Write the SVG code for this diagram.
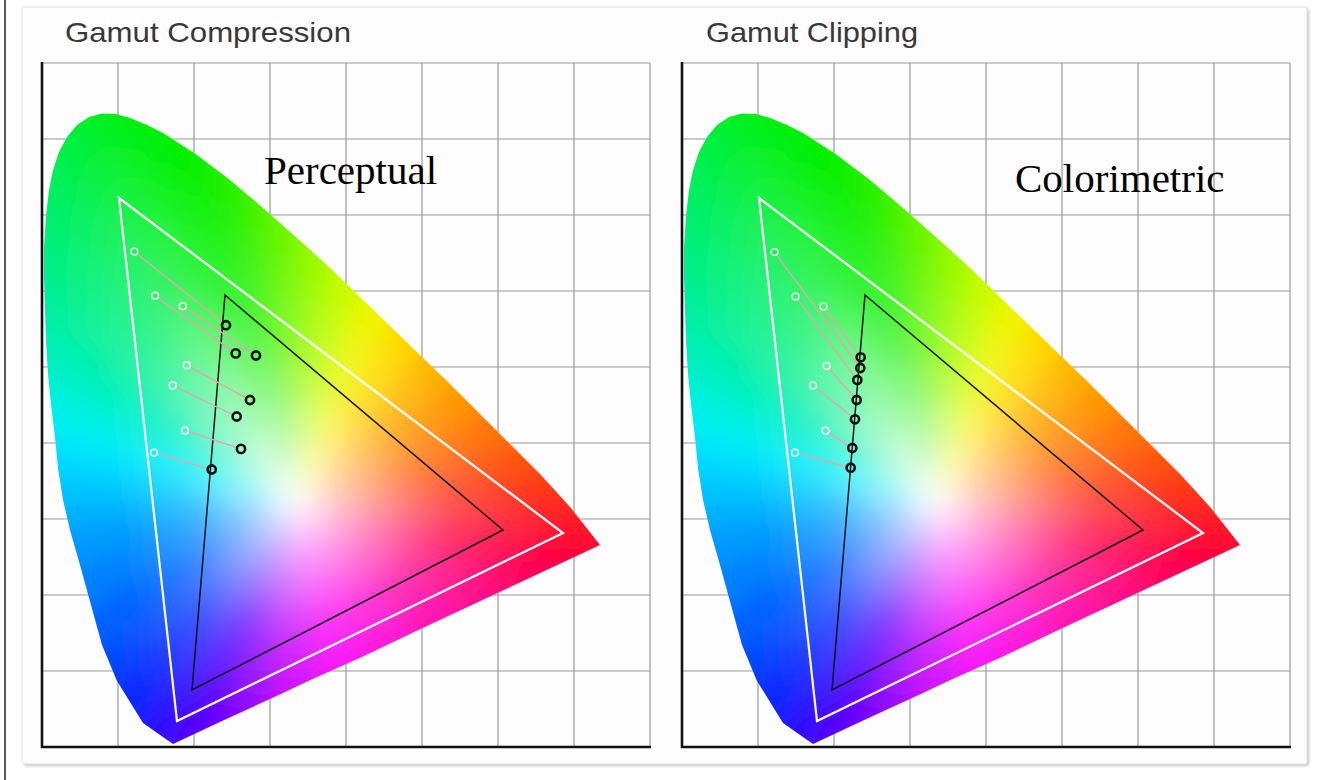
<svg xmlns="http://www.w3.org/2000/svg" xmlns:xlink="http://www.w3.org/1999/xlink" width="1323" height="780" viewBox="0 0 1323 780">
<style>
.grid{fill:none;stroke:#9a9a9a;stroke-width:1.2}
.axis{fill:none;stroke:#111;stroke-width:2.6}
.wtri{fill:none;stroke:#fff;stroke-width:2.2;stroke-linejoin:miter}
.btri{fill:none;stroke:#111;stroke-width:1.5;stroke-linejoin:miter}
.conn{stroke:#e6a2b4;stroke-width:1.4;fill:none}
.wpt{fill:none;stroke:#fff;stroke-width:1.4}
.bpt{fill:none;stroke:#111;stroke-width:2.6}
.title{font-family:"Liberation Sans",Arial,sans-serif;font-size:28px;fill:#383838}
.label{font-family:"Liberation Serif","Times New Roman",serif;font-size:41px;fill:#000}
</style>
<defs>
<filter id="sh" x="-5%" y="-5%" width="110%" height="110%"><feGaussianBlur stdDeviation="1.5"/></filter>
<filter id="soft" x="-10%" y="-10%" width="120%" height="120%"><feGaussianBlur stdDeviation="10"/></filter>
<clipPath id="hsClip"><polygon points="173,744 143,723 117,681 102,645 91,605 80,565 70,530 63,500 58,468 55,437 51,405 48,374 46,342 45,310 44,278 44,247 46,215 49,190 53,170 59,152 67,137 77,125 89,117 102,113.5 116,114 130,118 147,125 163,133 197,155 230,180 263,208 297,238 330,268 360,297 390,326 420,355 450,384 480,414 510,444 540,474 570,507 600,545 553,567 506,589 459,611 412,633 364,656 317,677 270,699 222,721"/></clipPath>
<radialGradient id="g0" gradientUnits="userSpaceOnUse" cx="296" cy="502" r="269"><stop offset="0" stop-color="#2a08ff" stop-opacity="0"/><stop offset=".2" stop-color="#2a08ff" stop-opacity=".35"/><stop offset=".5" stop-color="#2a08ff" stop-opacity=".78"/><stop offset=".85" stop-color="#2a08ff"/></radialGradient>
<radialGradient id="g1" gradientUnits="userSpaceOnUse" cx="296" cy="502" r="253"><stop offset="0" stop-color="#0a28ff" stop-opacity="0"/><stop offset=".2" stop-color="#0a28ff" stop-opacity=".35"/><stop offset=".5" stop-color="#0a28ff" stop-opacity=".78"/><stop offset=".85" stop-color="#0a28ff"/></radialGradient>
<radialGradient id="g2" gradientUnits="userSpaceOnUse" cx="296" cy="502" r="241"><stop offset="0" stop-color="#0048ff" stop-opacity="0"/><stop offset=".2" stop-color="#0048ff" stop-opacity=".35"/><stop offset=".5" stop-color="#0048ff" stop-opacity=".78"/><stop offset=".85" stop-color="#0048ff"/></radialGradient>
<radialGradient id="g3" gradientUnits="userSpaceOnUse" cx="296" cy="502" r="195"><stop offset="0" stop-color="#0064ff" stop-opacity="0"/><stop offset=".2" stop-color="#0064ff" stop-opacity=".35"/><stop offset=".5" stop-color="#0064ff" stop-opacity=".78"/><stop offset=".85" stop-color="#0064ff"/></radialGradient>
<radialGradient id="g4" gradientUnits="userSpaceOnUse" cx="296" cy="502" r="191"><stop offset="0" stop-color="#0080ff" stop-opacity="0"/><stop offset=".2" stop-color="#0080ff" stop-opacity=".35"/><stop offset=".5" stop-color="#0080ff" stop-opacity=".78"/><stop offset=".85" stop-color="#0080ff"/></radialGradient>
<radialGradient id="g5" gradientUnits="userSpaceOnUse" cx="296" cy="502" r="180"><stop offset="0" stop-color="#0098ff" stop-opacity="0"/><stop offset=".2" stop-color="#0098ff" stop-opacity=".35"/><stop offset=".5" stop-color="#0098ff" stop-opacity=".78"/><stop offset=".85" stop-color="#0098ff"/></radialGradient>
<radialGradient id="g6" gradientUnits="userSpaceOnUse" cx="296" cy="502" r="182"><stop offset="0" stop-color="#00b0ff" stop-opacity="0"/><stop offset=".2" stop-color="#00b0ff" stop-opacity=".35"/><stop offset=".5" stop-color="#00b0ff" stop-opacity=".78"/><stop offset=".85" stop-color="#00b0ff"/></radialGradient>
<radialGradient id="g7" gradientUnits="userSpaceOnUse" cx="296" cy="502" r="186"><stop offset="0" stop-color="#00c8ff" stop-opacity="0"/><stop offset=".2" stop-color="#00c8ff" stop-opacity=".35"/><stop offset=".5" stop-color="#00c8ff" stop-opacity=".78"/><stop offset=".85" stop-color="#00c8ff"/></radialGradient>
<radialGradient id="g8" gradientUnits="userSpaceOnUse" cx="296" cy="502" r="192"><stop offset="0" stop-color="#00e0ff" stop-opacity="0"/><stop offset=".2" stop-color="#00e0ff" stop-opacity=".35"/><stop offset=".5" stop-color="#00e0ff" stop-opacity=".78"/><stop offset=".85" stop-color="#00e0ff"/></radialGradient>
<radialGradient id="g9" gradientUnits="userSpaceOnUse" cx="296" cy="502" r="200"><stop offset="0" stop-color="#00f0f0" stop-opacity="0"/><stop offset=".2" stop-color="#00f0f0" stop-opacity=".35"/><stop offset=".5" stop-color="#00f0f0" stop-opacity=".78"/><stop offset=".85" stop-color="#00f0f0"/></radialGradient>
<radialGradient id="g10" gradientUnits="userSpaceOnUse" cx="296" cy="502" r="211"><stop offset="0" stop-color="#00f0d8" stop-opacity="0"/><stop offset=".2" stop-color="#00f0d8" stop-opacity=".35"/><stop offset=".5" stop-color="#00f0d8" stop-opacity=".78"/><stop offset=".85" stop-color="#00f0d8"/></radialGradient>
<radialGradient id="g11" gradientUnits="userSpaceOnUse" cx="296" cy="502" r="223"><stop offset="0" stop-color="#00f0c0" stop-opacity="0"/><stop offset=".2" stop-color="#00f0c0" stop-opacity=".35"/><stop offset=".5" stop-color="#00f0c0" stop-opacity=".78"/><stop offset=".85" stop-color="#00f0c0"/></radialGradient>
<radialGradient id="g12" gradientUnits="userSpaceOnUse" cx="296" cy="502" r="252"><stop offset="0" stop-color="#00f0aa" stop-opacity="0"/><stop offset=".2" stop-color="#00f0aa" stop-opacity=".35"/><stop offset=".5" stop-color="#00f0aa" stop-opacity=".78"/><stop offset=".85" stop-color="#00f0aa"/></radialGradient>
<radialGradient id="g13" gradientUnits="userSpaceOnUse" cx="296" cy="502" r="316"><stop offset="0" stop-color="#00f098" stop-opacity="0"/><stop offset=".2" stop-color="#00f098" stop-opacity=".35"/><stop offset=".5" stop-color="#00f098" stop-opacity=".78"/><stop offset=".85" stop-color="#00f098"/></radialGradient>
<radialGradient id="g14" gradientUnits="userSpaceOnUse" cx="296" cy="502" r="337"><stop offset="0" stop-color="#00f088" stop-opacity="0"/><stop offset=".2" stop-color="#00f088" stop-opacity=".35"/><stop offset=".5" stop-color="#00f088" stop-opacity=".78"/><stop offset=".85" stop-color="#00f088"/></radialGradient>
<radialGradient id="g15" gradientUnits="userSpaceOnUse" cx="296" cy="502" r="359"><stop offset="0" stop-color="#00f078" stop-opacity="0"/><stop offset=".2" stop-color="#00f078" stop-opacity=".35"/><stop offset=".5" stop-color="#00f078" stop-opacity=".78"/><stop offset=".85" stop-color="#00f078"/></radialGradient>
<radialGradient id="g16" gradientUnits="userSpaceOnUse" cx="296" cy="502" r="381"><stop offset="0" stop-color="#00f068" stop-opacity="0"/><stop offset=".2" stop-color="#00f068" stop-opacity=".35"/><stop offset=".5" stop-color="#00f068" stop-opacity=".78"/><stop offset=".85" stop-color="#00f068"/></radialGradient>
<radialGradient id="g17" gradientUnits="userSpaceOnUse" cx="296" cy="502" r="401"><stop offset="0" stop-color="#00f058" stop-opacity="0"/><stop offset=".2" stop-color="#00f058" stop-opacity=".35"/><stop offset=".5" stop-color="#00f058" stop-opacity=".78"/><stop offset=".85" stop-color="#00f058"/></radialGradient>
<radialGradient id="g18" gradientUnits="userSpaceOnUse" cx="296" cy="502" r="418"><stop offset="0" stop-color="#00f048" stop-opacity="0"/><stop offset=".2" stop-color="#00f048" stop-opacity=".35"/><stop offset=".5" stop-color="#00f048" stop-opacity=".78"/><stop offset=".85" stop-color="#00f048"/></radialGradient>
<radialGradient id="g19" gradientUnits="userSpaceOnUse" cx="296" cy="502" r="431"><stop offset="0" stop-color="#00f038" stop-opacity="0"/><stop offset=".2" stop-color="#00f038" stop-opacity=".35"/><stop offset=".5" stop-color="#00f038" stop-opacity=".78"/><stop offset=".85" stop-color="#00f038"/></radialGradient>
<radialGradient id="g20" gradientUnits="userSpaceOnUse" cx="296" cy="502" r="434"><stop offset="0" stop-color="#00f028" stop-opacity="0"/><stop offset=".2" stop-color="#00f028" stop-opacity=".35"/><stop offset=".5" stop-color="#00f028" stop-opacity=".78"/><stop offset=".85" stop-color="#00f028"/></radialGradient>
<radialGradient id="g21" gradientUnits="userSpaceOnUse" cx="296" cy="502" r="418"><stop offset="0" stop-color="#00f018" stop-opacity="0"/><stop offset=".2" stop-color="#00f018" stop-opacity=".35"/><stop offset=".5" stop-color="#00f018" stop-opacity=".78"/><stop offset=".85" stop-color="#00f018"/></radialGradient>
<radialGradient id="g22" gradientUnits="userSpaceOnUse" cx="296" cy="502" r="392"><stop offset="0" stop-color="#00f008" stop-opacity="0"/><stop offset=".2" stop-color="#00f008" stop-opacity=".35"/><stop offset=".5" stop-color="#00f008" stop-opacity=".78"/><stop offset=".85" stop-color="#00f008"/></radialGradient>
<radialGradient id="g23" gradientUnits="userSpaceOnUse" cx="296" cy="502" r="361"><stop offset="0" stop-color="#04f000" stop-opacity="0"/><stop offset=".2" stop-color="#04f000" stop-opacity=".35"/><stop offset=".5" stop-color="#04f000" stop-opacity=".78"/><stop offset=".85" stop-color="#04f000"/></radialGradient>
<radialGradient id="g24" gradientUnits="userSpaceOnUse" cx="296" cy="502" r="329"><stop offset="0" stop-color="#18f000" stop-opacity="0"/><stop offset=".2" stop-color="#18f000" stop-opacity=".35"/><stop offset=".5" stop-color="#18f000" stop-opacity=".78"/><stop offset=".85" stop-color="#18f000"/></radialGradient>
<radialGradient id="g25" gradientUnits="userSpaceOnUse" cx="296" cy="502" r="296"><stop offset="0" stop-color="#38f200" stop-opacity="0"/><stop offset=".2" stop-color="#38f200" stop-opacity=".35"/><stop offset=".5" stop-color="#38f200" stop-opacity=".78"/><stop offset=".85" stop-color="#38f200"/></radialGradient>
<radialGradient id="g26" gradientUnits="userSpaceOnUse" cx="296" cy="502" r="264"><stop offset="0" stop-color="#68f600" stop-opacity="0"/><stop offset=".2" stop-color="#68f600" stop-opacity=".35"/><stop offset=".5" stop-color="#68f600" stop-opacity=".78"/><stop offset=".85" stop-color="#68f600"/></radialGradient>
<radialGradient id="g27" gradientUnits="userSpaceOnUse" cx="296" cy="502" r="237"><stop offset="0" stop-color="#98fa00" stop-opacity="0"/><stop offset=".2" stop-color="#98fa00" stop-opacity=".35"/><stop offset=".5" stop-color="#98fa00" stop-opacity=".78"/><stop offset=".85" stop-color="#98fa00"/></radialGradient>
<radialGradient id="g28" gradientUnits="userSpaceOnUse" cx="296" cy="502" r="215"><stop offset="0" stop-color="#c8fc00" stop-opacity="0"/><stop offset=".2" stop-color="#c8fc00" stop-opacity=".35"/><stop offset=".5" stop-color="#c8fc00" stop-opacity=".78"/><stop offset=".85" stop-color="#c8fc00"/></radialGradient>
<radialGradient id="g29" gradientUnits="userSpaceOnUse" cx="296" cy="502" r="200"><stop offset="0" stop-color="#f0f400" stop-opacity="0"/><stop offset=".2" stop-color="#f0f400" stop-opacity=".35"/><stop offset=".5" stop-color="#f0f400" stop-opacity=".78"/><stop offset=".85" stop-color="#f0f400"/></radialGradient>
<radialGradient id="g30" gradientUnits="userSpaceOnUse" cx="296" cy="502" r="192"><stop offset="0" stop-color="#ffd800" stop-opacity="0"/><stop offset=".2" stop-color="#ffd800" stop-opacity=".35"/><stop offset=".5" stop-color="#ffd800" stop-opacity=".78"/><stop offset=".85" stop-color="#ffd800"/></radialGradient>
<radialGradient id="g31" gradientUnits="userSpaceOnUse" cx="296" cy="502" r="192"><stop offset="0" stop-color="#ffb400" stop-opacity="0"/><stop offset=".2" stop-color="#ffb400" stop-opacity=".35"/><stop offset=".5" stop-color="#ffb400" stop-opacity=".78"/><stop offset=".85" stop-color="#ffb400"/></radialGradient>
<radialGradient id="g32" gradientUnits="userSpaceOnUse" cx="296" cy="502" r="194"><stop offset="0" stop-color="#ff9400" stop-opacity="0"/><stop offset=".2" stop-color="#ff9400" stop-opacity=".35"/><stop offset=".5" stop-color="#ff9400" stop-opacity=".78"/><stop offset=".85" stop-color="#ff9400"/></radialGradient>
<radialGradient id="g33" gradientUnits="userSpaceOnUse" cx="296" cy="502" r="204"><stop offset="0" stop-color="#ff7408" stop-opacity="0"/><stop offset=".2" stop-color="#ff7408" stop-opacity=".35"/><stop offset=".5" stop-color="#ff7408" stop-opacity=".78"/><stop offset=".85" stop-color="#ff7408"/></radialGradient>
<radialGradient id="g34" gradientUnits="userSpaceOnUse" cx="296" cy="502" r="222"><stop offset="0" stop-color="#ff5410" stop-opacity="0"/><stop offset=".2" stop-color="#ff5410" stop-opacity=".35"/><stop offset=".5" stop-color="#ff5410" stop-opacity=".78"/><stop offset=".85" stop-color="#ff5410"/></radialGradient>
<radialGradient id="g35" gradientUnits="userSpaceOnUse" cx="296" cy="502" r="246"><stop offset="0" stop-color="#ff3418" stop-opacity="0"/><stop offset=".2" stop-color="#ff3418" stop-opacity=".35"/><stop offset=".5" stop-color="#ff3418" stop-opacity=".78"/><stop offset=".85" stop-color="#ff3418"/></radialGradient>
<radialGradient id="g36" gradientUnits="userSpaceOnUse" cx="296" cy="502" r="274"><stop offset="0" stop-color="#ff1828" stop-opacity="0"/><stop offset=".2" stop-color="#ff1828" stop-opacity=".35"/><stop offset=".5" stop-color="#ff1828" stop-opacity=".78"/><stop offset=".85" stop-color="#ff1828"/></radialGradient>
<radialGradient id="g37" gradientUnits="userSpaceOnUse" cx="296" cy="502" r="265"><stop offset="0" stop-color="#ff0040" stop-opacity="0"/><stop offset=".2" stop-color="#ff0040" stop-opacity=".35"/><stop offset=".5" stop-color="#ff0040" stop-opacity=".78"/><stop offset=".85" stop-color="#ff0040"/></radialGradient>
<radialGradient id="g38" gradientUnits="userSpaceOnUse" cx="296" cy="502" r="250"><stop offset="0" stop-color="#ff005c" stop-opacity="0"/><stop offset=".2" stop-color="#ff005c" stop-opacity=".35"/><stop offset=".5" stop-color="#ff005c" stop-opacity=".78"/><stop offset=".85" stop-color="#ff005c"/></radialGradient>
<radialGradient id="g39" gradientUnits="userSpaceOnUse" cx="296" cy="502" r="235"><stop offset="0" stop-color="#ff0084" stop-opacity="0"/><stop offset=".2" stop-color="#ff0084" stop-opacity=".35"/><stop offset=".5" stop-color="#ff0084" stop-opacity=".78"/><stop offset=".85" stop-color="#ff0084"/></radialGradient>
<radialGradient id="g40" gradientUnits="userSpaceOnUse" cx="296" cy="502" r="219"><stop offset="0" stop-color="#ff00ac" stop-opacity="0"/><stop offset=".2" stop-color="#ff00ac" stop-opacity=".35"/><stop offset=".5" stop-color="#ff00ac" stop-opacity=".78"/><stop offset=".85" stop-color="#ff00ac"/></radialGradient>
<radialGradient id="g41" gradientUnits="userSpaceOnUse" cx="296" cy="502" r="210"><stop offset="0" stop-color="#ff00d4" stop-opacity="0"/><stop offset=".2" stop-color="#ff00d4" stop-opacity=".35"/><stop offset=".5" stop-color="#ff00d4" stop-opacity=".78"/><stop offset=".85" stop-color="#ff00d4"/></radialGradient>
<radialGradient id="g42" gradientUnits="userSpaceOnUse" cx="296" cy="502" r="210"><stop offset="0" stop-color="#f800f4" stop-opacity="0"/><stop offset=".2" stop-color="#f800f4" stop-opacity=".35"/><stop offset=".5" stop-color="#f800f4" stop-opacity=".78"/><stop offset=".85" stop-color="#f800f4"/></radialGradient>
<radialGradient id="g43" gradientUnits="userSpaceOnUse" cx="296" cy="502" r="220"><stop offset="0" stop-color="#cc00ff" stop-opacity="0"/><stop offset=".2" stop-color="#cc00ff" stop-opacity=".35"/><stop offset=".5" stop-color="#cc00ff" stop-opacity=".78"/><stop offset=".85" stop-color="#cc00ff"/></radialGradient>
<radialGradient id="g44" gradientUnits="userSpaceOnUse" cx="296" cy="502" r="229"><stop offset="0" stop-color="#9000ff" stop-opacity="0"/><stop offset=".2" stop-color="#9000ff" stop-opacity=".35"/><stop offset=".5" stop-color="#9000ff" stop-opacity=".78"/><stop offset=".85" stop-color="#9000ff"/></radialGradient>
<radialGradient id="g45" gradientUnits="userSpaceOnUse" cx="296" cy="502" r="231"><stop offset="0" stop-color="#5800ff" stop-opacity="0"/><stop offset=".2" stop-color="#5800ff" stop-opacity=".35"/><stop offset=".5" stop-color="#5800ff" stop-opacity=".78"/><stop offset=".85" stop-color="#5800ff"/></radialGradient>

<g id="grid">
<path class="grid" d="M118 63V747M194 63V747M270 63V747M346 63V747M422 63V747M498 63V747M574 63V747M650 63V747M42 63H650M42 139H650M42 215H650M42 291H650M42 367H650M42 443H650M42 519H650M42 595H650M42 671H650"/>
<path class="axis" d="M42 62V748M41 747H651"/>
</g>

<g id="horseshoe">
<g clip-path="url(#hsClip)">
<g transform="translate(296 502) scale(1.15) translate(-296 -502)" filter="url(#soft)">
<polygon fill="#fff" points="173,744 143,723 117,681 102,645 91,605 80,565 70,530 63,500 58,468 55,437 51,405 48,374 46,342 45,310 44,278 44,247 46,215 50,185 56,160 66,138 80,123 102,114 130,118 163,133 197,155 230,180 263,208 297,238 330,268 360,297 390,326 420,355 450,384 480,414 510,444 540,474 570,507 600,545 553,567 506,589 459,611 412,633 364,656 317,677 270,699 222,721"/>
<g shape-rendering="crispEdges">
<polygon fill="url(#g0)" points="296,502 173,744 143,723"/>
<polygon fill="url(#g1)" points="296,502 143,723 117,681"/>
<polygon fill="url(#g2)" points="296,502 117,681 102,645"/>
<polygon fill="url(#g3)" points="296,502 102,645 91,605"/>
<polygon fill="url(#g4)" points="296,502 91,605 80,565"/>
<polygon fill="url(#g5)" points="296,502 80,565 70,530"/>
<polygon fill="url(#g6)" points="296,502 70,530 63,500"/>
<polygon fill="url(#g7)" points="296,502 63,500 58,468"/>
<polygon fill="url(#g8)" points="296,502 58,468 55,437"/>
<polygon fill="url(#g9)" points="296,502 55,437 51,405"/>
<polygon fill="url(#g10)" points="296,502 51,405 48,374"/>
<polygon fill="url(#g11)" points="296,502 48,374 46,342"/>
<polygon fill="url(#g12)" points="296,502 46,342 45,310"/>
<polygon fill="url(#g13)" points="296,502 45,310 44,278"/>
<polygon fill="url(#g14)" points="296,502 44,278 44,247"/>
<polygon fill="url(#g15)" points="296,502 44,247 46,215"/>
<polygon fill="url(#g16)" points="296,502 46,215 50,185"/>
<polygon fill="url(#g17)" points="296,502 50,185 56,160"/>
<polygon fill="url(#g18)" points="296,502 56,160 66,138"/>
<polygon fill="url(#g19)" points="296,502 66,138 80,123"/>
<polygon fill="url(#g20)" points="296,502 80,123 102,114"/>
<polygon fill="url(#g21)" points="296,502 102,114 130,118"/>
<polygon fill="url(#g22)" points="296,502 130,118 163,133"/>
<polygon fill="url(#g23)" points="296,502 163,133 197,155"/>
<polygon fill="url(#g24)" points="296,502 197,155 230,180"/>
<polygon fill="url(#g25)" points="296,502 230,180 263,208"/>
<polygon fill="url(#g26)" points="296,502 263,208 297,238"/>
<polygon fill="url(#g27)" points="296,502 297,238 330,268"/>
<polygon fill="url(#g28)" points="296,502 330,268 360,297"/>
<polygon fill="url(#g29)" points="296,502 360,297 390,326"/>
<polygon fill="url(#g30)" points="296,502 390,326 420,355"/>
<polygon fill="url(#g31)" points="296,502 420,355 450,384"/>
<polygon fill="url(#g32)" points="296,502 450,384 480,414"/>
<polygon fill="url(#g33)" points="296,502 480,414 510,444"/>
<polygon fill="url(#g34)" points="296,502 510,444 540,474"/>
<polygon fill="url(#g35)" points="296,502 540,474 570,507"/>
<polygon fill="url(#g36)" points="296,502 570,507 600,545"/>
<polygon fill="url(#g37)" points="296,502 600,545 553,567"/>
<polygon fill="url(#g38)" points="296,502 553,567 506,589"/>
<polygon fill="url(#g39)" points="296,502 506,589 459,611"/>
<polygon fill="url(#g40)" points="296,502 459,611 412,633"/>
<polygon fill="url(#g41)" points="296,502 412,633 364,656"/>
<polygon fill="url(#g42)" points="296,502 364,656 317,677"/>
<polygon fill="url(#g43)" points="296,502 317,677 270,699"/>
<polygon fill="url(#g44)" points="296,502 270,699 222,721"/>
<polygon fill="url(#g45)" points="296,502 222,721 173,744"/>
</g>
</g>
</g>
<polygon class="wtri" points="119,198 563,533 177,721"/>
<polygon class="btri" points="225,295 503,530 192,690"/>
</g>
</defs>

<rect width="1323" height="780" fill="#fff"/>
<line x1="5" y1="0" x2="5" y2="780" stroke="#222" stroke-width="1.5"/>
<g id="card">
<rect x="24" y="9" width="1285" height="757" rx="2" fill="#c4c4c4" filter="url(#sh)"/>
<rect x="22" y="7" width="1285" height="757" rx="2" fill="#fdfdfd" stroke="#e2e2e2" stroke-width="1"/>
</g>

<g id="panel-compression">
<use xlink:href="#grid"/>
<use xlink:href="#horseshoe"/>
<text class="title" x="65" y="42" textLength="286" lengthAdjust="spacingAndGlyphs">Gamut Compression</text>
<text class="label" x="264" y="184">Perceptual</text>
<g id="connectors-compression" class="conn">
<line x1="137.0" y1="253.7" x2="222.9" y2="322.7"/>
<line x1="157.8" y1="297.7" x2="232.4" y2="351.1"/>
<line x1="185.6" y1="308.2" x2="252.7" y2="353.3"/>
<line x1="189.8" y1="366.9" x2="246.5" y2="398.1"/>
<line x1="175.8" y1="386.9" x2="233.1" y2="414.8"/>
<line x1="188.3" y1="431.5" x2="237.2" y2="447.6"/>
<line x1="157.4" y1="453.7" x2="207.9" y2="468.4"/>
</g>
<g id="points-compression">
<circle class="wpt" cx="134.3" cy="251.5" r="3.4"/>
<circle class="wpt" cx="155" cy="295.7" r="3.4"/>
<circle class="wpt" cx="182.7" cy="306.2" r="3.4"/>
<circle class="wpt" cx="186.7" cy="365.2" r="3.4"/>
<circle class="wpt" cx="172.7" cy="385.4" r="3.4"/>
<circle class="wpt" cx="185" cy="430.4" r="3.4"/>
<circle class="wpt" cx="154" cy="452.7" r="3.4"/>
<circle class="bpt" cx="226" cy="325.2" r="4.1"/>
<circle class="bpt" cx="235.7" cy="353.4" r="4.1"/>
<circle class="bpt" cx="256" cy="355.5" r="4.1"/>
<circle class="bpt" cx="250" cy="400" r="4.1"/>
<circle class="bpt" cx="236.7" cy="416.5" r="4.1"/>
<circle class="bpt" cx="241" cy="448.9" r="4.1"/>
<circle class="bpt" cx="211.7" cy="469.5" r="4.1"/>
</g>
</g>

<g id="panel-clipping">
<use xlink:href="#grid" transform="translate(640 0)"/>
<use xlink:href="#horseshoe" transform="translate(640 0)"/>
<text class="title" x="706" y="42" textLength="212" lengthAdjust="spacingAndGlyphs">Gamut Clipping</text>
<text class="label" x="1015" y="192">Colorimetric</text>
<g id="connectors-clipping" class="conn">
<line x1="776.6" y1="254.8" x2="857.9" y2="364.8"/>
<line x1="797.6" y1="299.3" x2="854.9" y2="376.8"/>
<line x1="825.6" y1="309.3" x2="858.3" y2="354.1"/>
<line x1="829.0" y1="368.6" x2="854.1" y2="397.0"/>
<line x1="815.7" y1="387.7" x2="851.9" y2="416.8"/>
<line x1="828.4" y1="432.6" x2="848.9" y2="445.8"/>
<line x1="798.4" y1="453.6" x2="846.8" y2="466.7"/>
</g>
<g id="points-clipping">
<circle class="wpt" cx="774.5" cy="252" r="3.4"/>
<circle class="wpt" cx="795.5" cy="296.5" r="3.4"/>
<circle class="wpt" cx="823.5" cy="306.5" r="3.4"/>
<circle class="wpt" cx="826.7" cy="366" r="3.4"/>
<circle class="wpt" cx="813" cy="385.5" r="3.4"/>
<circle class="wpt" cx="825.5" cy="430.7" r="3.4"/>
<circle class="wpt" cx="795" cy="452.7" r="3.4"/>
<circle class="bpt" cx="860.7" cy="357.3" r="4.1"/>
<circle class="bpt" cx="860.3" cy="368" r="4.1"/>
<circle class="bpt" cx="857.3" cy="380" r="4.1"/>
<circle class="bpt" cx="856.7" cy="400" r="4.1"/>
<circle class="bpt" cx="855" cy="419.3" r="4.1"/>
<circle class="bpt" cx="852.3" cy="448" r="4.1"/>
<circle class="bpt" cx="850.7" cy="467.7" r="4.1"/>
</g>
</g>
</svg>
